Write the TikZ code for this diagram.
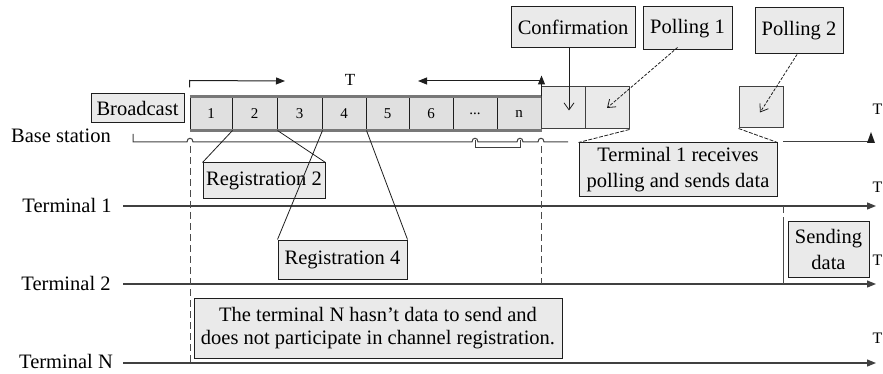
\documentclass[tikz,border=0pt]{standalone}
\usepackage{fontspec}
\setmainfont{Liberation Serif}
\usetikzlibrary{arrows.meta,calc}
\definecolor{boxgray}{RGB}{234,234,234}
\definecolor{slotgray}{RGB}{224,224,224}
\definecolor{bandgray}{RGB}{120,120,120}
\definecolor{ink}{RGB}{30,30,30}
\begin{document}
\begin{tikzpicture}[x=1pt,y=-1pt,
  lbl/.style={draw=ink, fill=boxgray, line width=1pt, inner sep=0pt, align=center, font=\fontsize{20.5}{26}\selectfont},
  slot/.style={draw=ink, fill=slotgray, line width=1pt, inner sep=0pt, font=\fontsize{15}{18}\selectfont, minimum height=33pt},
  pslot/.style={draw=ink!85, fill=boxgray, line width=1pt, inner sep=0pt, minimum width=44pt},
  txt/.style={inner sep=0pt, font=\fontsize{20.5}{26}\selectfont},
  small/.style={inner sep=0pt, font=\fontsize{16}{18}\selectfont},
  axis/.style={line width=1.2pt, draw=ink!85, -{Triangle[length=9pt,width=7pt]}},
  vdash/.style={line width=1pt, draw=ink!80, dash pattern=on 7pt off 4pt},
  conn/.style={line width=0.8pt, draw=ink},
  darr/.style={line width=0.8pt, draw=ink, dash pattern=on 3pt off 1.5pt, -{Straight Barb[length=7pt,width=10pt]}},
  sarr/.style={line width=0.8pt, draw=ink, -{Straight Barb[length=7pt,width=10pt]}},
  tarr/.style={line width=1pt, draw=ink, -{Triangle[length=9pt,width=7pt]}}
  ]
\useasboundingbox (0,0) rectangle (883,374);

% time axes
\node[txt] (lbs) at (61,136) {Base station};
\node[txt] (lt1) at (67,205) {Terminal 1};
\node[txt] (lt2) at (66,283) {Terminal 2};
\node[txt] (ltn) at (66,361) {Terminal N};
\coordinate (t1a) at (123,206); \coordinate (t1b) at (876,206);
\coordinate (t2a) at (123,284); \coordinate (t2b) at (876,284);
\coordinate (tna) at (123,363); \coordinate (tnb) at (876,363);
\draw[axis] (t1a) -- (t1b);
\draw[axis] (t2a) -- (t2b);
\draw[axis] (tna) -- (tnb);

% right edge T labels
\node[small, anchor=east] (e0) at (882.5,109) {T};
\node[small, anchor=east] (e1) at (882.5,187) {T};
\node[small, anchor=east] (e2) at (882.5,260) {T};
\node[small, anchor=east] (e3) at (882.5,338) {T};

% base station line with jumps
\draw[line width=1pt, draw=ink!85] (133,134) -- (133,142) -- (187,142)
  .. controls (187,137) and (193,137) .. (193,142) -- (472,142)
  .. controls (472,137) and (478,137) .. (478,142) -- (517,142)
  .. controls (517,137) and (523,137) .. (523,142) -- (538,142)
  .. controls (538,137) and (544,137) .. (544,142) -- (568,142);
\draw[line width=1pt, draw=ink!85] (475,140) -- (475,148) -- (520,148) -- (520,140);
\draw[line width=1pt, draw=ink!85] (783,142) -- (871,142);
\fill[ink] (867,143) -- (875,143) -- (871,132) -- cycle;

% dashed verticals
\draw[vdash] (190,146) -- (190,363);
\draw[vdash] (541,146) -- (541,284);
\draw[vdash] (783,206) -- (783,224);
\draw[line width=0.8pt, draw=ink!80] (783,224) -- (783,284);

% slots
\node[lbl, minimum width=93pt, minimum height=29pt] (bc) at (137.5,108.5) {Broadcast};
\node[slot, minimum width=42pt] (s1) at (211,113.5) {1};
\node[slot, minimum width=45pt] (s2) at (254.5,113.5) {2};
\node[slot, minimum width=45pt] (s3) at (299.5,113.5) {3};
\node[slot, minimum width=44pt] (s4) at (344,113.5) {4};
\node[slot, minimum width=43pt] (s5) at (387.5,113.5) {5};
\node[slot, minimum width=44pt] (s6) at (431,113.5) {6};
\node[slot, minimum width=44pt] (s7) at (475,113.5) {...};
\node[slot, minimum width=44pt] (s8) at (519,113.5) {n};
\draw[bandgray, line width=2.6pt] (s1.north west) -- (s8.north east);
\draw[bandgray, line width=2.6pt] (s1.south west) -- (s8.south east);

\node[pslot, minimum height=42pt] (c) at (563,108) {};
\node[pslot, minimum height=42pt] (p1) at (607,108) {};
\node[pslot, minimum height=41pt] (p2) at (761,107.5) {};

% period T
\draw[tarr] (s1.north west) ++(0,-9) -- ++(0,-7) -- (285,81);
\node[small, font=\fontsize{17}{18}\selectfont] (tt) at (350,80) {T};
\draw[tarr] (s8.north east) -- ++(0,-21);
\draw[tarr] (541,81) -- (418,81);

% labels
\node[lbl, minimum width=124pt, minimum height=41pt] (conf) at (573,27.5) {Confirmation};
\node[lbl, minimum width=89pt, minimum height=43pt] (pl1) at (687.5,28.5) {Polling 1};
\node[lbl, minimum width=88pt, minimum height=46pt] (pl2) at (799,31) {Polling 2};
\node[lbl, minimum width=122pt, minimum height=36pt] (r2) at (264,181) {Registration 2};
\node[lbl, minimum width=129pt, minimum height=39pt] (r4) at (342.5,259.5) {Registration 4};
\node[lbl, minimum width=198pt, minimum height=54pt] (t1r) at (678,170) {Terminal 1 receives\\polling and sends data};
\node[lbl, minimum width=81pt, minimum height=56pt] (sd) at (828.5,249) {Sending\\data};
\node[lbl, minimum width=368pt, minimum height=60pt, font=\fontsize{20.5}{23}\selectfont] (nb) at (378,328)
  {The terminal N hasn’t data to send and\\does not participate in channel registration.};

% connectors
\draw[conn] (s1.south east) -- (r2.north west);
\draw[conn] (s2.south east) -- (r2.north east);
\draw[conn] (s3.south east) -- (r4.north west);
\draw[conn] (s4.south east) -- (r4.north east);
\draw[sarr] (conf.south) ++(-4,0) -- ++(0,62);
\draw[darr] (pl1.south) ++(-10,-3) -- (p1.center);
\draw[darr] (pl2.south) ++(-2,0) -- ($(p2.center)+(-1,5)$);
\draw[conn, dash pattern=on 4pt off 1.5pt] (p1.south east) -- (t1r.north west);
\draw[conn, dash pattern=on 4pt off 1.5pt] (p2.south west) -- (t1r.north east);
\end{tikzpicture}
\end{document}
